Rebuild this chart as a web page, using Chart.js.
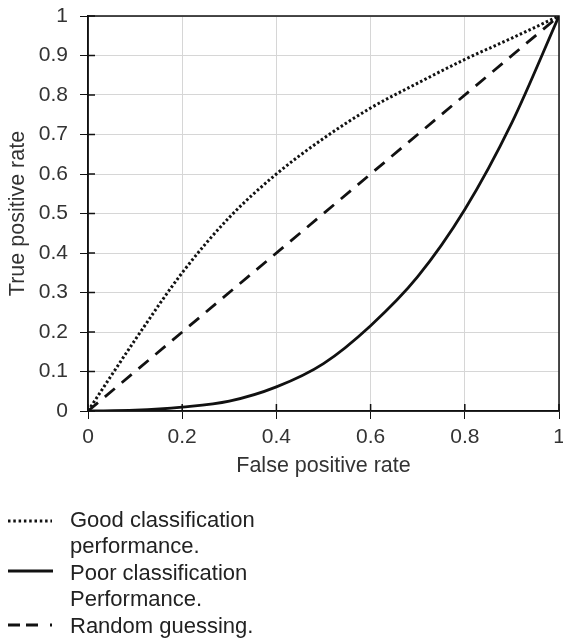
<!DOCTYPE html>
<html><head><meta charset="utf-8">
<script src="https://cdn.jsdelivr.net/npm/chart.js@4"></script>
<style>
html,body{margin:0;padding:0;background:#fff;overflow:hidden;width:563px;height:639px}
#wrap{position:absolute;left:0;top:0;width:563px;height:481px}
#legend{position:absolute;left:0;top:0;width:563px;height:639px;font-family:"Liberation Sans",Arial,sans-serif;font-size:22px;line-height:26.5px;color:#222;}
.row{position:absolute;left:70px;white-space:nowrap}
svg{position:absolute;left:0;top:0}
</style></head><body>
<div id="wrap"><canvas id="c"></canvas></div>
<div id="legend">
<svg width="70" height="639">
<line x1="8" y1="521" x2="52" y2="521" stroke="#111" stroke-width="2.8" stroke-dasharray="2.5,2.8"/>
<line x1="8" y1="571" x2="53" y2="571" stroke="#111" stroke-width="2.8"/>
<line x1="8" y1="625" x2="53" y2="625" stroke="#111" stroke-width="2.8" stroke-dasharray="12,6,12,12,2,20"/>
</svg>
<div class="row" style="top:506.5px">Good classification</div>
<div class="row" style="top:533px">performance.</div>
<div class="row" style="top:559.5px">Poor classification</div>
<div class="row" style="top:586px">Performance.</div>
<div class="row" style="top:612.5px">Random guessing.</div>
</div>
<script>
const fprValues = [0, 0.1, 0.2, 0.3, 0.4, 0.5, 0.6, 0.7, 0.8, 0.9, 1];
const goodTpr   = [0, 0.18, 0.35, 0.49, 0.60, 0.69, 0.767, 0.83, 0.89, 0.944, 1];
const poorTpr   = [0, 0.002, 0.01, 0.025, 0.061, 0.12, 0.216, 0.34, 0.51, 0.73, 1];
const randomFpr = [0, 1];
const randomTpr = [0, 1];
const xTickLabels = [0, 0.2, 0.4, 0.6, 0.8, 1];
const yTickLabels = [0, 0.1, 0.2, 0.3, 0.4, 0.5, 0.6, 0.7, 0.8, 0.9, 1];

const toPts = (xs, ys) => xs.map((x, i) => ({x, y: ys[i]}));

const frame = {
  id: 'frame',
  afterDatasetsDraw(chart) {
    const a = chart.chartArea, ctx = chart.ctx;
    const xs = chart.scales.x, ys = chart.scales.y;
    ctx.save();
    ctx.strokeStyle = '#111';
    ctx.lineWidth = 1.5;
    ctx.strokeRect(a.left, a.top, a.right - a.left, a.bottom - a.top);
    ctx.beginPath();
    ys.ticks.forEach(t => { const p = ys.getPixelForValue(t.value); ctx.moveTo(a.left, p); ctx.lineTo(a.left + 7, p); });
    xs.ticks.forEach(t => { const p = xs.getPixelForValue(t.value); ctx.moveTo(p, a.bottom); ctx.lineTo(p, a.bottom - 7); });
    ctx.stroke();
    ctx.restore();
  }
};

const tickFont = {family: '"Liberation Sans", Arial, sans-serif', size: 21};
const titleFont = {family: '"Liberation Sans", Arial, sans-serif', size: 21.5};
new Chart(document.getElementById('c'), {
  type: 'scatter',
  data: {
    datasets: [
      {label: 'Good classification performance.', data: toPts(fprValues, goodTpr), showLine: true,
       borderColor: '#111', borderWidth: 3, borderDash: [2.5, 2.3], pointRadius: 0, cubicInterpolationMode: 'monotone'},
      {label: 'Poor classification Performance.', data: toPts(fprValues, poorTpr), showLine: true,
       borderColor: '#111', borderWidth: 2.8, pointRadius: 0, cubicInterpolationMode: 'monotone'},
      {label: 'Random guessing.', data: toPts(randomFpr, randomTpr), showLine: true,
       borderColor: '#111', borderWidth: 2.8, borderDash: [13, 9], pointRadius: 0}
    ]
  },
  options: {
    responsive: true, maintainAspectRatio: false, animation: false,
    layout: {padding: {top: 16, left: 0, right: 4, bottom: 0}},
    plugins: {legend: {display: false}, tooltip: {enabled: false}},
    scales: {
      x: {
        type: 'linear', min: 0, max: 1,
        afterBuildTicks: s => { s.ticks = xTickLabels.map(v => ({value: v})); },
        afterFit: s => { s.height = 70; s.paddingLeft = 0; s.paddingRight = 0; },
        ticks: {font: tickFont, color: '#333', padding: 6, maxRotation: 0, callback: v => String(v)},
        grid: {color: '#d6d6d6', tickColor: '#111', tickLength: 8, lineWidth: 1},
        border: {color: '#111', width: 1.5},
        title: {display: true, text: 'False positive rate', font: titleFont, color: '#333', padding: {top: 0, bottom: 2}}
      },
      y: {
        type: 'linear', min: 0, max: 1,
        afterBuildTicks: s => { s.ticks = yTickLabels.map(v => ({value: v})); },
        afterFit: s => { s.width = 88; s.paddingTop = 0; s.paddingBottom = 0; },
        ticks: {font: tickFont, color: '#333', padding: 12, callback: v => String(v)},
        grid: {color: '#d6d6d6', tickColor: '#111', tickLength: 8, lineWidth: 1},
        border: {color: '#111', width: 1.5},
        title: {display: true, text: 'True positive rate', font: titleFont, color: '#333', padding: {top: 5, bottom: 0}}
      }
    }
  },
  plugins: [frame]
});
</script>
</body></html>
